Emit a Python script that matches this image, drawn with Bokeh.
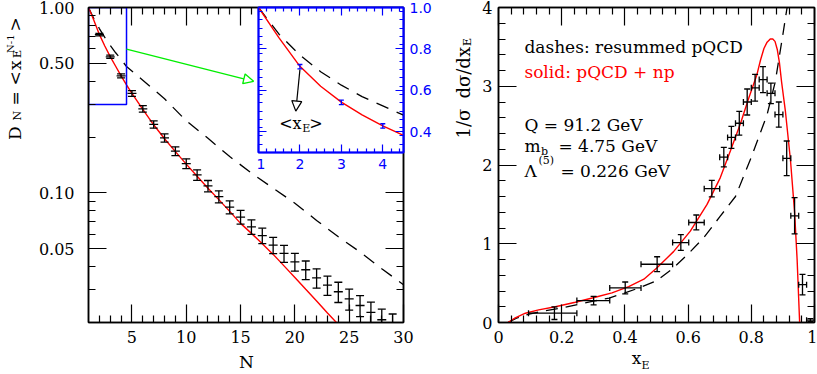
import numpy as np
from bokeh.plotting import figure
from bokeh.models import (Range1d, LinearAxis, LogAxis, FixedTicker, PrintfTickFormatter,
                          CustomJSTickFormatter, Label, Arrow, NormalHead, GridBox)
from bokeh.embed import file_html
from bokeh.resources import INLINE

# ---------------- data: left panel (moments D_N) ----------------
N_data = [2, 3, 4, 5, 6, 7, 8, 9, 10, 11, 12, 13, 14, 15, 16, 17, 18, 19, 20,
          21, 22, 23, 24, 25, 26, 27, 28, 29]
D_data = [0.714, 0.542, 0.428, 0.344, 0.284, 0.234, 0.198, 0.168, 0.144, 0.125,
          0.109, 0.0955, 0.0838, 0.0741, 0.0656, 0.0589, 0.0523, 0.0472, 0.0425,
          0.0385, 0.0348, 0.0318, 0.0293, 0.0268, 0.0247, 0.0227, 0.0207, 0.0195]
D_relerr = [0.015, 0.02, 0.025, 0.035, 0.04, 0.045, 0.05, 0.055, 0.06, 0.065,
            0.07, 0.075, 0.08, 0.085, 0.09, 0.095, 0.10, 0.105, 0.11, 0.115,
            0.12, 0.12, 0.125, 0.13, 0.13, 0.135, 0.14, 0.14]

N_np = [1, 1.5, 2, 2.5, 3, 3.5, 4, 4.5, 5, 6, 7, 8, 9, 10, 11, 12, 13, 14, 15,
        16, 17, 18, 19, 20, 21, 22, 23, 24]
D_np = [1.0, 0.852, 0.716, 0.62, 0.543, 0.482, 0.428, 0.383, 0.344, 0.282,
        0.233, 0.196, 0.167, 0.143, 0.123, 0.106, 0.092, 0.0795, 0.0685, 0.0605,
        0.0532, 0.0466, 0.0404, 0.0350, 0.0302, 0.0261, 0.0225, 0.0195]

N_pqcd = [1, 1.5, 2, 2.5, 3, 3.5, 4, 4.5, 6, 8, 10, 12, 14, 16, 18, 20, 22, 24,
          26, 28, 30]
D_pqcd = [1.0, 0.87, 0.77, 0.69, 0.625, 0.57, 0.525, 0.48, 0.405, 0.322, 0.245,
          0.197, 0.157, 0.128, 0.106, 0.088, 0.071, 0.058, 0.048, 0.039, 0.032]

inset_x = (1.0, 4.5)
inset_y = (0.3, 1.0)

# ---------------- data: right panel (x_E spectrum) ----------------
xE_pts = [0.177, 0.301, 0.401, 0.502, 0.577, 0.626, 0.675, 0.713, 0.737, 0.762,
          0.787, 0.812, 0.837, 0.862, 0.887, 0.912, 0.937, 0.962, 0.987]
xE_lo = [0.095, 0.248, 0.352, 0.451, 0.551, 0.602, 0.651, 0.700, 0.725, 0.750,
         0.775, 0.800, 0.825, 0.850, 0.875, 0.900, 0.925, 0.950, 0.975]
xE_hi = [0.248, 0.352, 0.451, 0.551, 0.602, 0.651, 0.700, 0.725, 0.750, 0.775,
         0.800, 0.825, 0.850, 0.875, 0.900, 0.925, 0.950, 0.975, 1.000]
dsig_pts = [0.118, 0.278, 0.439, 0.740, 1.015, 1.27, 1.70, 2.10, 2.35, 2.53,
            2.80, 2.98, 3.085, 2.91, 2.64, 2.085, 1.355, 0.48, 0.03]
dsig_err = [0.08, 0.055, 0.075, 0.095, 0.10, 0.095, 0.105, 0.125, 0.14, 0.15,
            0.165, 0.17, 0.165, 0.13, 0.16, 0.22, 0.23, 0.13, 0.02]

xE_np = [0.030, 0.053, 0.085, 0.127, 0.18, 0.243, 0.306, 0.359, 0.412, 0.46,
         0.5, 0.554, 0.607, 0.66, 0.702, 0.734, 0.766, 0.792, 0.818, 0.829,
         0.840, 0.850, 0.860, 0.868, 0.875, 0.882, 0.889, 0.896, 0.908, 0.924,
         0.937, 0.945, 0.953]
dsig_np = [0.0, 0.06, 0.118, 0.16, 0.20, 0.257, 0.32, 0.376, 0.456, 0.55,
           0.69, 0.90, 1.16, 1.50, 1.84, 2.18, 2.53, 2.85, 3.15, 3.33,
           3.48, 3.56, 3.60, 3.60, 3.57, 3.47, 3.30, 3.05, 2.68, 2.06,
           1.40, 0.80, 0.0]

xE_pqcd = [0.03, 0.06, 0.1, 0.15, 0.2, 0.25, 0.3, 0.35, 0.4, 0.45, 0.5, 0.55,
           0.6, 0.65, 0.7, 0.75, 0.8, 0.85, 0.876, 0.9, 0.925]
dsig_pqcd = [0.0, 0.06, 0.11, 0.15, 0.185, 0.228, 0.27, 0.31, 0.375, 0.447,
             0.53, 0.68, 0.87, 1.08, 1.34, 1.60, 2.10, 2.64, 3.06, 3.66, 4.3]

SERIF = "DejaVu Serif"
SANS = "DejaVu Sans"
RED = "#ff0000"
BLUE = "#0000ff"
GREEN = "#00ee00"
W, H = 817, 374


def style_axis(ax, color, major_in, minor_in, labels=True, font=SERIF,
               size="16px", standoff=8):
    ax.axis_line_color = color
    ax.axis_line_width = 1.5
    ax.major_tick_line_color = color
    ax.minor_tick_line_color = color
    ax.major_tick_line_width = 1.2
    ax.minor_tick_line_width = 1.2
    ax.major_tick_in = major_in
    ax.major_tick_out = 0
    ax.minor_tick_in = minor_in
    ax.minor_tick_out = 0
    if labels:
        ax.major_label_text_font = font
        ax.major_label_text_font_size = size
        ax.major_label_text_color = color
        ax.major_label_standoff = standoff
    else:
        ax.major_label_text_font_size = "0px"
        ax.major_label_text_alpha = 0
        ax.major_label_standoff = 0


def lab(fig, x, y, text, size="17px", color="black", align="left",
        baseline="middle", angle=0.0, dx=0, dy=0, font=SERIF):
    fig.add_layout(Label(x=x, y=y, text=text, text_font=font, text_font_size=size,
                         text_color=color, text_align=align, text_baseline=baseline,
                         angle=angle, x_offset=dx, y_offset=dy))


def base_fig(**kw):
    f = figure(toolbar_location=None, tools="", output_backend="svg", **kw)
    f.xgrid.visible = False
    f.ygrid.visible = False
    f.background_fill_color = "white"
    f.outline_line_color = "black"
    f.outline_line_width = 1.5
    return f


# ======================= LEFT PANEL =======================
p1 = base_fig(width=434, height=H, x_range=Range1d(1, 30),
              y_range=Range1d(0.02, 1.0), y_axis_type="log",
              min_border_left=88, min_border_right=30, min_border_top=7,
              min_border_bottom=52)
p1.border_fill_color = "white"
xt1 = FixedTicker(ticks=[5, 10, 15, 20, 25, 30],
                  minor_ticks=[n for n in range(2, 30) if n % 5])
yt1 = FixedTicker(ticks=[0.05, 0.1, 0.5, 1.0],
                  minor_ticks=[0.02, 0.03, 0.04, 0.06, 0.07, 0.08, 0.09,
                               0.2, 0.3, 0.4, 0.6, 0.7, 0.8, 0.9])
p1.xaxis.ticker = xt1
p1.yaxis.ticker = yt1
p1.yaxis.formatter = PrintfTickFormatter(format="%.2f")
style_axis(p1.xaxis[0], "black", 18, 7, standoff=8)
style_axis(p1.yaxis[0], "black", 18, 7, standoff=14)
ax_top1 = LinearAxis(ticker=xt1)
style_axis(ax_top1, "black", 18, 7, labels=False)
p1.add_layout(ax_top1, "above")
ax_r1 = LogAxis(ticker=yt1)
style_axis(ax_r1, "black", 18, 7, labels=False)
p1.add_layout(ax_r1, "right")

p1.line(N_pqcd, D_pqcd, line_color="black", line_width=1.3, line_dash="13 9")
p1.line(N_np, D_np, line_color=RED, line_width=1.4)

Nd = np.array(N_data, dtype=float)
Dd = np.array(D_data)
Re = np.array(D_relerr)
D_lo = Dd * (1 - Re)
D_hi = Dd * (1 + Re)
p1.segment(Nd, D_lo, Nd, D_hi, line_color="black", line_width=1.3)
p1.scatter(Nd, D_lo, marker="dash", size=8, line_color="black", line_width=1.3)
p1.scatter(Nd, D_hi, marker="dash", size=8, line_color="black", line_width=1.3)
p1.scatter(Nd, Dd, marker="dash", size=9, line_color="black", line_width=1.3)

# blue box marking the inset region, and the green arrow to the inset
p1.quad(left=inset_x[0], right=inset_x[1], bottom=inset_y[0], top=inset_y[1],
        fill_color=None, line_color=BLUE, line_width=1.5)
p1.add_layout(Arrow(end=NormalHead(size=10, fill_color="white", line_color=GREEN,
                                   line_width=1.3),
                    x_start=inset_x[1], y_start=0.596, x_end=16.2, y_end=0.40,
                    line_color=GREEN, line_width=1.3))

# ======================= INSET =======================
pin = base_fig(width=178, height=178, x_range=Range1d(*inset_x),
               y_range=Range1d(*inset_y), y_axis_location="right",
               min_border_left=2, min_border_right=30, min_border_top=7,
               min_border_bottom=26)
pin.border_fill_color = None
pin.outline_line_color = BLUE
pin.outline_line_width = 2
xti = FixedTicker(ticks=[1, 2, 3, 4],
                  minor_ticks=[round(1 + 0.2 * i, 2) for i in range(1, 18) if i % 5])
yti = FixedTicker(ticks=[0.4, 0.6, 0.8, 1.0],
                  minor_ticks=[round(0.3 + 0.04 * i, 2) for i in range(1, 18)])
pin.xaxis.ticker = xti
pin.yaxis.ticker = yti
pin.xaxis.formatter = PrintfTickFormatter(format="%d")
pin.yaxis.formatter = PrintfTickFormatter(format="%.1f")
style_axis(pin.xaxis[0], BLUE, 8, 4, font=SANS, size="14px", standoff=6)
style_axis(pin.yaxis[0], BLUE, 8, 4, font=SANS, size="14px", standoff=6)
ax_ti = LinearAxis(ticker=xti)
style_axis(ax_ti, BLUE, 8, 4, labels=False)
pin.add_layout(ax_ti, "above")
ax_li = LinearAxis(ticker=yti)
style_axis(ax_li, BLUE, 8, 4, labels=False)
pin.add_layout(ax_li, "left")

pin.line(N_pqcd, D_pqcd, line_color="black", line_width=1.3, line_dash="13 9")
pin.line(N_np, D_np, line_color=RED, line_width=1.4)
pin.segment(Nd, D_lo, Nd, D_hi, line_color=BLUE, line_width=1.3)
pin.scatter(Nd, D_lo, marker="dash", size=5, line_color=BLUE, line_width=1.3)
pin.scatter(Nd, D_hi, marker="dash", size=5, line_color=BLUE, line_width=1.3)
pin.add_layout(Arrow(end=NormalHead(size=10, fill_color="white", line_color="black",
                                    line_width=1.2),
                     x_start=2.0, y_start=0.70, x_end=1.9, y_end=0.50,
                     line_color="black", line_width=1.2))
lab(pin, 1.5, 0.4424, "<x", size="16px")
lab(pin, 1.5, 0.4424, "E", size="11px", dx=23, dy=-5)
lab(pin, 1.5, 0.4424, ">", size="16px", dx=30)

# ======================= RIGHT PANEL =======================
p2 = base_fig(width=383, height=H, x_range=Range1d(0, 1), y_range=Range1d(0, 4),
              min_border_left=64, min_border_right=3, min_border_top=7,
              min_border_bottom=52)
p2.border_fill_color = "white"
xt2 = FixedTicker(ticks=[0, 0.2, 0.4, 0.6, 0.8, 1.0],
                  minor_ticks=[round(0.04 * i, 2) for i in range(1, 25) if i % 5])
yt2 = FixedTicker(ticks=[0, 1, 2, 3, 4],
                  minor_ticks=[round(0.2 * i, 1) for i in range(1, 20) if i % 5])
p2.xaxis.ticker = xt2
p2.yaxis.ticker = yt2
p2.xaxis.formatter = CustomJSTickFormatter(
    code="return (Math.round(tick*10)/10).toString();")
p2.yaxis.formatter = PrintfTickFormatter(format="%d")
style_axis(p2.xaxis[0], "black", 18, 7, standoff=8)
style_axis(p2.yaxis[0], "black", 18, 7, standoff=6)
ax_t2 = LinearAxis(ticker=xt2)
style_axis(ax_t2, "black", 18, 7, labels=False)
p2.add_layout(ax_t2, "above")
ax_r2 = LinearAxis(ticker=yt2)
style_axis(ax_r2, "black", 18, 7, labels=False)
p2.add_layout(ax_r2, "right")

p2.line(xE_pqcd, dsig_pqcd, line_color="black", line_width=1.3, line_dash="12 8")
p2.line(xE_np, dsig_np, line_color=RED, line_width=1.4)

xp = np.array(xE_pts)
yp = np.array(dsig_pts)
ye = np.array(dsig_err)
xl = np.array(xE_lo)
xh = np.array(xE_hi)
p2.segment(xp, yp - ye, xp, yp + ye, line_color="black", line_width=1.3)
p2.segment(xl, yp, xh, yp, line_color="black", line_width=1.3)
p2.scatter(xp, yp - ye, marker="dash", size=6, line_color="black", line_width=1.3)
p2.scatter(xp, yp + ye, marker="dash", size=6, line_color="black", line_width=1.3)
p2.scatter(xl, yp, marker="dash", size=6, angle=np.pi / 2, line_color="black",
           line_width=1.3)
p2.scatter(xh, yp, marker="dash", size=6, angle=np.pi / 2, line_color="black",
           line_width=1.3)

tx = 0.082
lab(p2, tx, 3.495, "dashes: resummed pQCD")
lab(p2, tx, 3.177, "solid: pQCD + np", color=RED)
lab(p2, tx, 2.513, "Q = 91.2 GeV")
lab(p2, tx, 2.238, "m")
lab(p2, tx, 2.238, "b", size="11px", dx=16.5, dy=-5)
lab(p2, tx, 2.238, "= 4.75 GeV", dx=34)
lab(p2, tx, 1.920, "\u039b")
lab(p2, tx, 1.920, "(5)", size="11px", dx=14, dy=11)
lab(p2, tx, 1.920, "= 0.226 GeV", dx=36)

# ============ transparent overlay for the axis titles (screen pixels) ============
ov = figure(width=W, height=H, x_range=Range1d(0, W), y_range=Range1d(H, 0),
            toolbar_location=None, tools="", output_backend="svg",
            x_axis_location=None, y_axis_location=None,
            min_border_left=0, min_border_right=0, min_border_top=0,
            min_border_bottom=0)
ov.grid.visible = False
ov.background_fill_color = None
ov.border_fill_color = None
ov.outline_line_color = None

ang = np.pi / 2
# left: D_N = <x_E^{N-1}>
lab(ov, 14.0, 139.5, "D", angle=ang)
lab(ov, 16.5, 120.0, "N", size="11px", angle=ang)
lab(ov, 14.0, 105.0, "=", angle=ang)
lab(ov, 14.0, 85.0, "<", angle=ang)
lab(ov, 14.0, 69.5, "x", angle=ang)
lab(ov, 16.5, 57.5, "E", size="11px", angle=ang)
lab(ov, 9.8, 52.5, "N-1", size="10px", angle=ang)
lab(ov, 14.0, 31.0, ">", angle=ang)
lab(ov, 246, 361, "N", align="center")
# right: 1/sigma dsigma/dx_E
lab(ov, 463, 138.0, "1/\u03c3", size="18px", angle=ang)
lab(ov, 463, 98.0, "d\u03c3/dx", size="18px", angle=ang)
lab(ov, 467, 45.5, "E", size="11px", angle=ang)
lab(ov, 636, 357, "x", align="center")
lab(ov, 641, 365, "E", size="11px")

# zero-size outer tracks keep the overlay's frame independent of the panels
layout = GridBox(children=[(p1, 1, 1, 2, 2), (pin, 1, 2), (p2, 1, 3, 2, 1),
                           (ov, 0, 0, 4, 5)],
                 rows=["0px", "178px", "196px", "0px"],
                 cols=["0px", "256px", "178px", "383px", "0px"],
                 spacing=0)

open("out.html", "w").write(file_html(layout, INLINE))
